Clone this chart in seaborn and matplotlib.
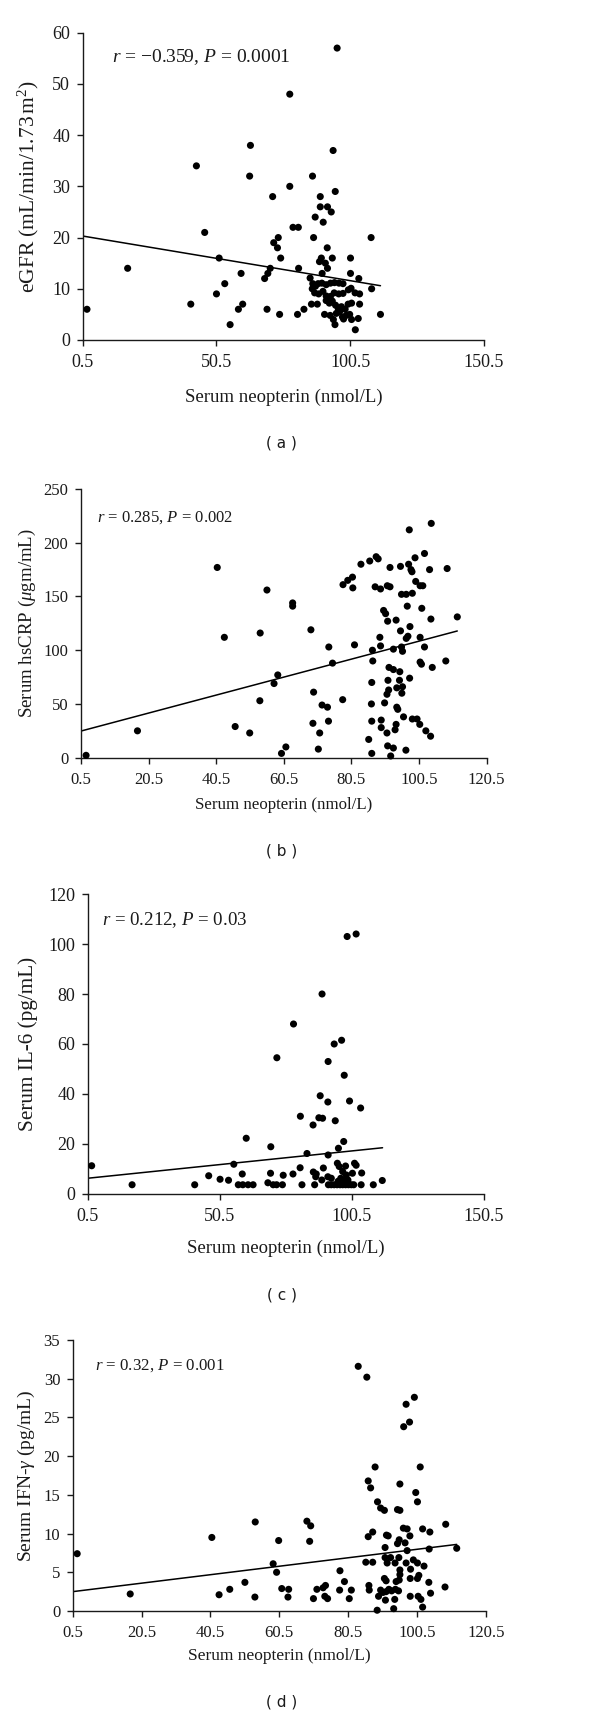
import matplotlib
matplotlib.use("Agg")
import matplotlib.pyplot as plt
import seaborn as sns

# ---------------- data ----------------
# Panel (a): eGFR vs serum neopterin
a_x = [95.6, 77.9, 63.2, 94.1, 43.0, 62.9, 86.4, 77.9, 94.9, 71.5, 89.3, 89.3, 92.0, 93.4, 87.4, 90.4,
       46.1, 79.1, 81.1, 73.6, 86.8, 108.3, 71.9, 73.3, 91.9, 51.5, 74.5, 89.7, 93.8, 100.6, 89.0, 91.2,
       17.3, 70.6, 81.2, 92.0, 59.7, 69.7, 90.0, 100.6, 68.5, 103.7, 53.6, 108.5, 50.5, 40.9, 60.3, 58.7,
       69.4, 83.2, 2.1, 74.1, 80.8, 111.8, 55.6, 102.4, 104.0, 104.0,
       85.5, 86.5, 86.3, 87.5, 88.5, 89.9, 91.5, 93.1, 94.6, 96.3, 97.8, 86.0, 88.2, 87.2, 88.7, 90.3,
       91.5, 93.1, 94.5, 96.2, 97.8, 99.8, 100.8, 102.3, 90.9, 91.5, 92.7, 93.8, 95.0, 96.0, 97.2, 98.6,
       99.7, 101.0, 93.0, 94.2, 95.3, 96.5, 97.6, 99.0, 100.3, 101.0, 103.5, 94.8, 98.0]
a_y = [57, 48, 38, 37, 34, 32, 32, 30, 29, 28, 28, 26, 26, 25, 24, 23,
       21, 22, 22, 20, 20, 20, 19, 18, 18, 16, 16, 16, 16, 16, 15.3, 15.0,
       14, 14, 14, 14, 13, 13, 13, 13, 12, 12, 11, 10, 9, 7, 7, 6,
       6, 6, 6, 5, 5, 5, 3, 2, 7, 9,
       12.1, 11.0, 10.0, 10.5, 11.0, 11.1, 10.8, 11.1, 11.2, 11.1, 11.0, 7.0, 7.0, 9.2, 9.0, 9.5,
       8.6, 8.5, 9.2, 9.0, 9.1, 9.8, 10.1, 9.2, 5.0, 7.7, 7.2, 7.6, 6.8, 6.2, 6.5, 6.0,
       7.0, 7.2, 4.8, 4.0, 5.2, 5.5, 4.5, 4.8, 5.0, 4.0, 4.2, 3.0, 4.1]
a_line_x = [0.5, 111.8]
a_line_y = [20.3, 10.6]

# Panel (b): hsCRP vs serum neopterin
b_x = [40.8, 42.9, 53.5, 55.5, 63.1, 63.1, 68.5, 73.8, 78.0, 79.4, 80.8, 80.9, 83.3, 85.9, 87.8, 88.4,
       87.5, 89.1, 91.9, 91.1, 91.9, 90.0, 90.6, 91.2, 93.7, 95.0, 97.4, 97.6, 95.3, 96.7, 98.5, 98.1,
       98.4, 99.3, 99.5, 100.8, 101.6, 102.1, 104.1, 103.6, 108.8, 111.8, 97.0, 101.3, 104.0, 97.8, 95.0,
       96.7, 97.2, 100.8, 88.9, 89.1, 81.4, 102.1, 92.9, 95.3, 86.7,
       86.8, 95.6, 74.9, 58.7, 57.6, 86.5, 91.6, 92.9, 94.8, 91.3, 94.7, 97.7, 100.8, 101.2, 104.4, 108.4,
       91.5, 93.9, 95.6, 95.4, 91.0, 69.3, 71.8, 73.4, 77.9, 86.4, 90.3, 93.9, 94.2, 53.4, 69.1, 73.7,
       71.1, 86.5, 89.3, 89.3, 93.7, 93.4, 95.9, 98.5, 99.9, 100.7, 102.5, 103.9, 91.0, 85.6, 91.2, 92.9,
       96.6, 70.7, 61.1, 59.8, 86.5, 92.1, 46.1, 50.4, 17.2, 2.0]
b_y = [177, 112, 116, 156, 144, 141, 119, 103, 161, 165, 168, 158, 180, 183, 187, 185,
       159, 157, 177, 160, 159, 137, 134, 127, 128, 178, 180, 212, 152, 152, 153, 175,
       173, 186, 164, 160, 160, 190, 218, 175, 176, 131, 141, 139, 129, 122, 118,
       111, 113, 112, 112, 104, 105, 103, 101, 103, 100,
       90, 99, 88, 77, 69, 70, 84, 82, 80, 72, 72, 74, 89, 87, 84, 90,
       63, 65, 66, 60, 59, 61, 49, 47, 54, 50, 51, 47, 45, 53, 32, 34,
       23, 34, 35, 28, 31, 26, 38, 36, 36, 31, 25, 20, 23, 17, 11, 9,
       7, 8, 10, 4, 4, 1.6, 29, 23, 25, 2.2]
b_line_x = [0.5, 111.8]
b_line_y = [24.8, 117.9]

# Panel (c): IL-6 vs serum neopterin
c_x = [98.7, 102.1, 89.2, 78.4, 93.8, 96.6, 72.1, 91.5, 97.6, 88.5, 91.4, 99.6, 103.8, 81.0, 88.0, 89.4,
       94.2, 85.8, 60.5, 97.4, 69.8, 95.4, 83.5, 91.5, 55.8, 2.0, 80.9, 89.7, 95.0, 95.7, 98.1, 101.5,
       102.1, 59.0, 69.7, 74.5, 78.2, 85.9, 87.0, 86.8, 97.0, 98.4, 100.7, 104.2, 46.3, 50.6, 53.8, 68.7,
       89.1, 91.4, 92.7, 96.3, 97.7, 99.0, 95.3, 112.0,
       17.3, 41.0, 57.5, 59.2, 61.2, 63.1, 70.7, 72.0, 74.2, 81.6, 86.4, 91.6, 92.7, 93.8, 94.9, 96.0,
       97.0, 98.1, 99.2, 100.3, 101.2, 104.0, 108.6]
c_y = [103, 104, 80, 68, 60, 61.5, 54.5, 53, 47.5, 39.3, 36.8, 37.2, 34.4, 31.1, 30.5, 30.3,
       29.3, 27.6, 22.3, 21, 18.9, 18.3, 16.2, 15.6, 11.9, 11.3, 10.5, 10.4, 12.3, 11.0, 11.2, 12.3,
       11.5, 8, 8.3, 7.5, 8, 8.8, 8.0, 6.9, 9.0, 7.6, 8.3, 8.4, 7.3, 5.9, 5.5, 4.5,
       5.6, 6.9, 6.3, 6.3, 5.6, 5.6, 5.1, 5.4,
       3.7, 3.7, 3.7, 3.7, 3.7, 3.7, 3.7, 3.7, 3.7, 3.7, 3.7, 3.7, 3.7, 3.7, 3.7, 3.7,
       3.7, 3.7, 3.7, 3.7, 3.7, 3.7, 3.7]
c_line_x = [0.5, 112.1]
c_line_y = [6.3, 18.5]

# Panel (d): IFN-gamma vs serum neopterin
d_x = [83.4, 85.9, 99.7, 97.3, 98.3, 96.6, 88.3, 101.4, 86.3, 87.0, 95.5, 100.1, 89.0, 100.6, 89.9, 91.0,
       94.8, 95.5, 53.5, 68.5, 69.6, 108.8, 87.6, 102.1, 104.2, 96.5, 97.6, 91.6, 92.1, 98.4, 40.9, 60.3,
       86.3, 69.3, 95.3, 94.8, 97.0, 91.2, 97.6, 104.0, 112.0, 1.8, 91.2, 92.8, 95.2, 99.4, 91.8, 94.1,
       97.3, 100.6, 85.6, 87.6, 58.7, 59.7, 78.1, 95.5, 95.5, 98.6, 102.5, 91.0, 91.5, 94.4, 95.3, 98.5,
       100.6, 101.0, 103.9, 79.4, 50.5, 73.9, 108.6, 86.5, 86.6, 46.1, 61.2, 63.2, 71.4, 73.2, 78.0, 81.4,
       89.9, 90.6, 91.5, 92.3, 93.1, 94.2, 95.1, 104.4, 17.2, 43.0, 53.4, 63.0, 70.4, 73.7, 74.5, 80.8,
       89.3, 91.3, 94.0, 98.5, 100.8, 101.6, 88.9, 93.7, 102.1]
d_y = [31.6, 30.2, 27.6, 26.7, 24.4, 23.8, 18.6, 18.6, 16.8, 15.9, 16.4, 15.3, 14.1, 14.1, 13.3, 13.0,
       13.1, 13.0, 11.5, 11.6, 11.0, 11.2, 10.2, 10.6, 10.2, 10.7, 10.6, 9.8, 9.7, 9.7, 9.5, 9.1,
       9.6, 9.0, 9.2, 8.7, 8.8, 8.2, 7.8, 8.0, 8.1, 7.4, 6.9, 6.9, 6.9, 6.6, 6.2, 6.2,
       6.2, 6.2, 6.3, 6.3, 6.1, 5.0, 5.2, 5.3, 4.7, 5.4, 5.8, 4.2, 3.9, 3.8, 4.0, 4.2,
       4.2, 4.6, 3.7, 3.8, 3.7, 3.3, 3.1, 3.3, 2.7, 2.8, 2.9, 2.8, 2.8, 3.0, 2.7, 2.7,
       2.7, 2.4, 2.5, 2.8, 2.6, 2.8, 2.6, 2.3, 2.2, 2.1, 1.8, 1.8, 1.6, 1.9, 1.6, 1.6,
       1.9, 1.4, 1.5, 1.9, 1.9, 1.5, 0.1, 0.3, 0.5]
d_line_x = [0.5, 112.0]
d_line_y = [2.5, 8.6]

xticks_wide = [0.5, 50.5, 100.5, 150.5]
xticks_narrow = [0.5, 20.5, 40.5, 60.5, 80.5, 100.5, 120.5]
yticks_a = [0, 10, 20, 30, 40, 50, 60]
yticks_b = [0, 50, 100, 150, 200, 250]
yticks_c = [0, 20, 40, 60, 80, 100, 120]
yticks_d = [0, 5, 10, 15, 20, 25, 30, 35]

xlabel = "Serum neopterin (nmol/L)"
ylabels = ["eGFR (mL/min/1.73$\\,\\mathrm{m}^2$)", "Serum hsCRP ($\\mu$gm/mL)",
           "Serum IL-6 (pg/mL)", "Serum IFN-$\\gamma$ (pg/mL)"]
notes = ["$r$ = \u22120.359, $P$ = 0.0001", "$r$ = 0.285, $P$ = 0.002",
         "$r$ = 0.212, $P$ = 0.03", "$r$ = 0.32, $P$ = 0.001"]
panel_tags = ["( a )", "( b )", "( c )", "( d )"]

# ---------------- style ----------------
sns.set_theme(style="ticks")
plt.rcParams["font.family"] = ["Liberation Serif", "DejaVu Serif"]
plt.rcParams["mathtext.fontset"] = "custom"
plt.rcParams["mathtext.rm"] = "Liberation Serif"
plt.rcParams["mathtext.it"] = "Liberation Serif:italic"
plt.rcParams["mathtext.bf"] = "Liberation Serif:bold"

W, H = 600, 1717
fig = plt.figure(figsize=(W / 100, H / 100), dpi=100)
fig.patch.set_facecolor("white")

# layout in pixels: left, right, top, bottom of each plotting area
boxes = [(82.7, 484.0, 32.7, 340.0),
         (81.0, 486.7, 489.0, 757.7),
         (87.7, 484.0, 894.0, 1194.0),
         (72.7, 486.0, 1340.0, 1611.0)]
panels = [
    dict(x=a_x, y=a_y, lx=a_line_x, ly=a_line_y, xt=xticks_wide, yt=yticks_a, xlim=(0.5, 150.5), ylim=(0, 60)),
    dict(x=b_x, y=b_y, lx=b_line_x, ly=b_line_y, xt=xticks_narrow, yt=yticks_b, xlim=(0.5, 120.5), ylim=(0, 250)),
    dict(x=c_x, y=c_y, lx=c_line_x, ly=c_line_y, xt=xticks_wide, yt=yticks_c, xlim=(0.5, 150.5), ylim=(0, 120)),
    dict(x=d_x, y=d_y, lx=d_line_x, ly=d_line_y, xt=xticks_narrow, yt=yticks_d, xlim=(0.5, 120.5), ylim=(0, 35)),
]
tick_fs = [13, 12, 13, 12]
lab_fs = [13.5, 12.2, 13.5, 12.5]
ylab_fs = [15.5, 13.6, 15.3, 14]
note_fs = [14, 12, 13.6, 12.2]
note_pos = [(111.7, 57), (96.7, 518), (101.7, 920), (95, 1366)]
xlab_y = [397, 805, 1248, 1656]
ylab_x = [28, 27, 28.5, 26.5]
tag_y = [443, 851, 1295, 1702]

for i, (box, p) in enumerate(zip(boxes, panels)):
    l, r, t, b = box
    ax = fig.add_axes([l / W, 1 - b / H, (r - l) / W, (b - t) / H])
    sns.scatterplot(x=p["x"], y=p["y"], ax=ax, color="black", s=26, linewidth=0,
                    edgecolor="none", clip_on=False, zorder=3)
    sns.lineplot(x=p["lx"], y=p["ly"], ax=ax, color="black", linewidth=1.1, zorder=2)
    ax.set_xlim(*p["xlim"])
    ax.set_ylim(*p["ylim"])
    ax.set_xticks(p["xt"])
    ax.set_xticklabels([f"{v:g}" for v in p["xt"]])
    ax.set_yticks(p["yt"])
    ax.set_yticklabels([str(v) for v in p["yt"]])
    sns.despine(ax=ax)
    for s in ("left", "bottom"):
        ax.spines[s].set_linewidth(1.0)
        ax.spines[s].set_color("#1a1a1a")
    ax.tick_params(axis="both", direction="out", length=4, width=1.0, color="#1a1a1a",
                   labelsize=tick_fs[i], labelcolor="#1a1a1a")
    ax.tick_params(axis="x", pad=6)
    ax.tick_params(axis="y", pad=5)
    ax.set_xlabel("")
    ax.set_ylabel("")
    ax.set_facecolor("white")

    fig.text((l + r) / 2 / W, 1 - xlab_y[i] / H, xlabel, ha="center", va="center",
             fontsize=lab_fs[i], color="#1a1a1a")
    fig.text(ylab_x[i] / W, 1 - ((t + b) / 2) / H, ylabels[i], ha="center", va="center",
             rotation=90, fontsize=ylab_fs[i], color="#1a1a1a")
    fig.text(note_pos[i][0] / W, 1 - note_pos[i][1] / H, notes[i], ha="left", va="center",
             fontsize=note_fs[i], color="#1a1a1a")
    fig.text(281.7 / W, 1 - tag_y[i] / H, panel_tags[i], ha="center", va="center",
             fontsize=11, family=["DejaVu Sans"], color="#1a1a1a")

fig.savefig("out.png", dpi=100, facecolor="white")
